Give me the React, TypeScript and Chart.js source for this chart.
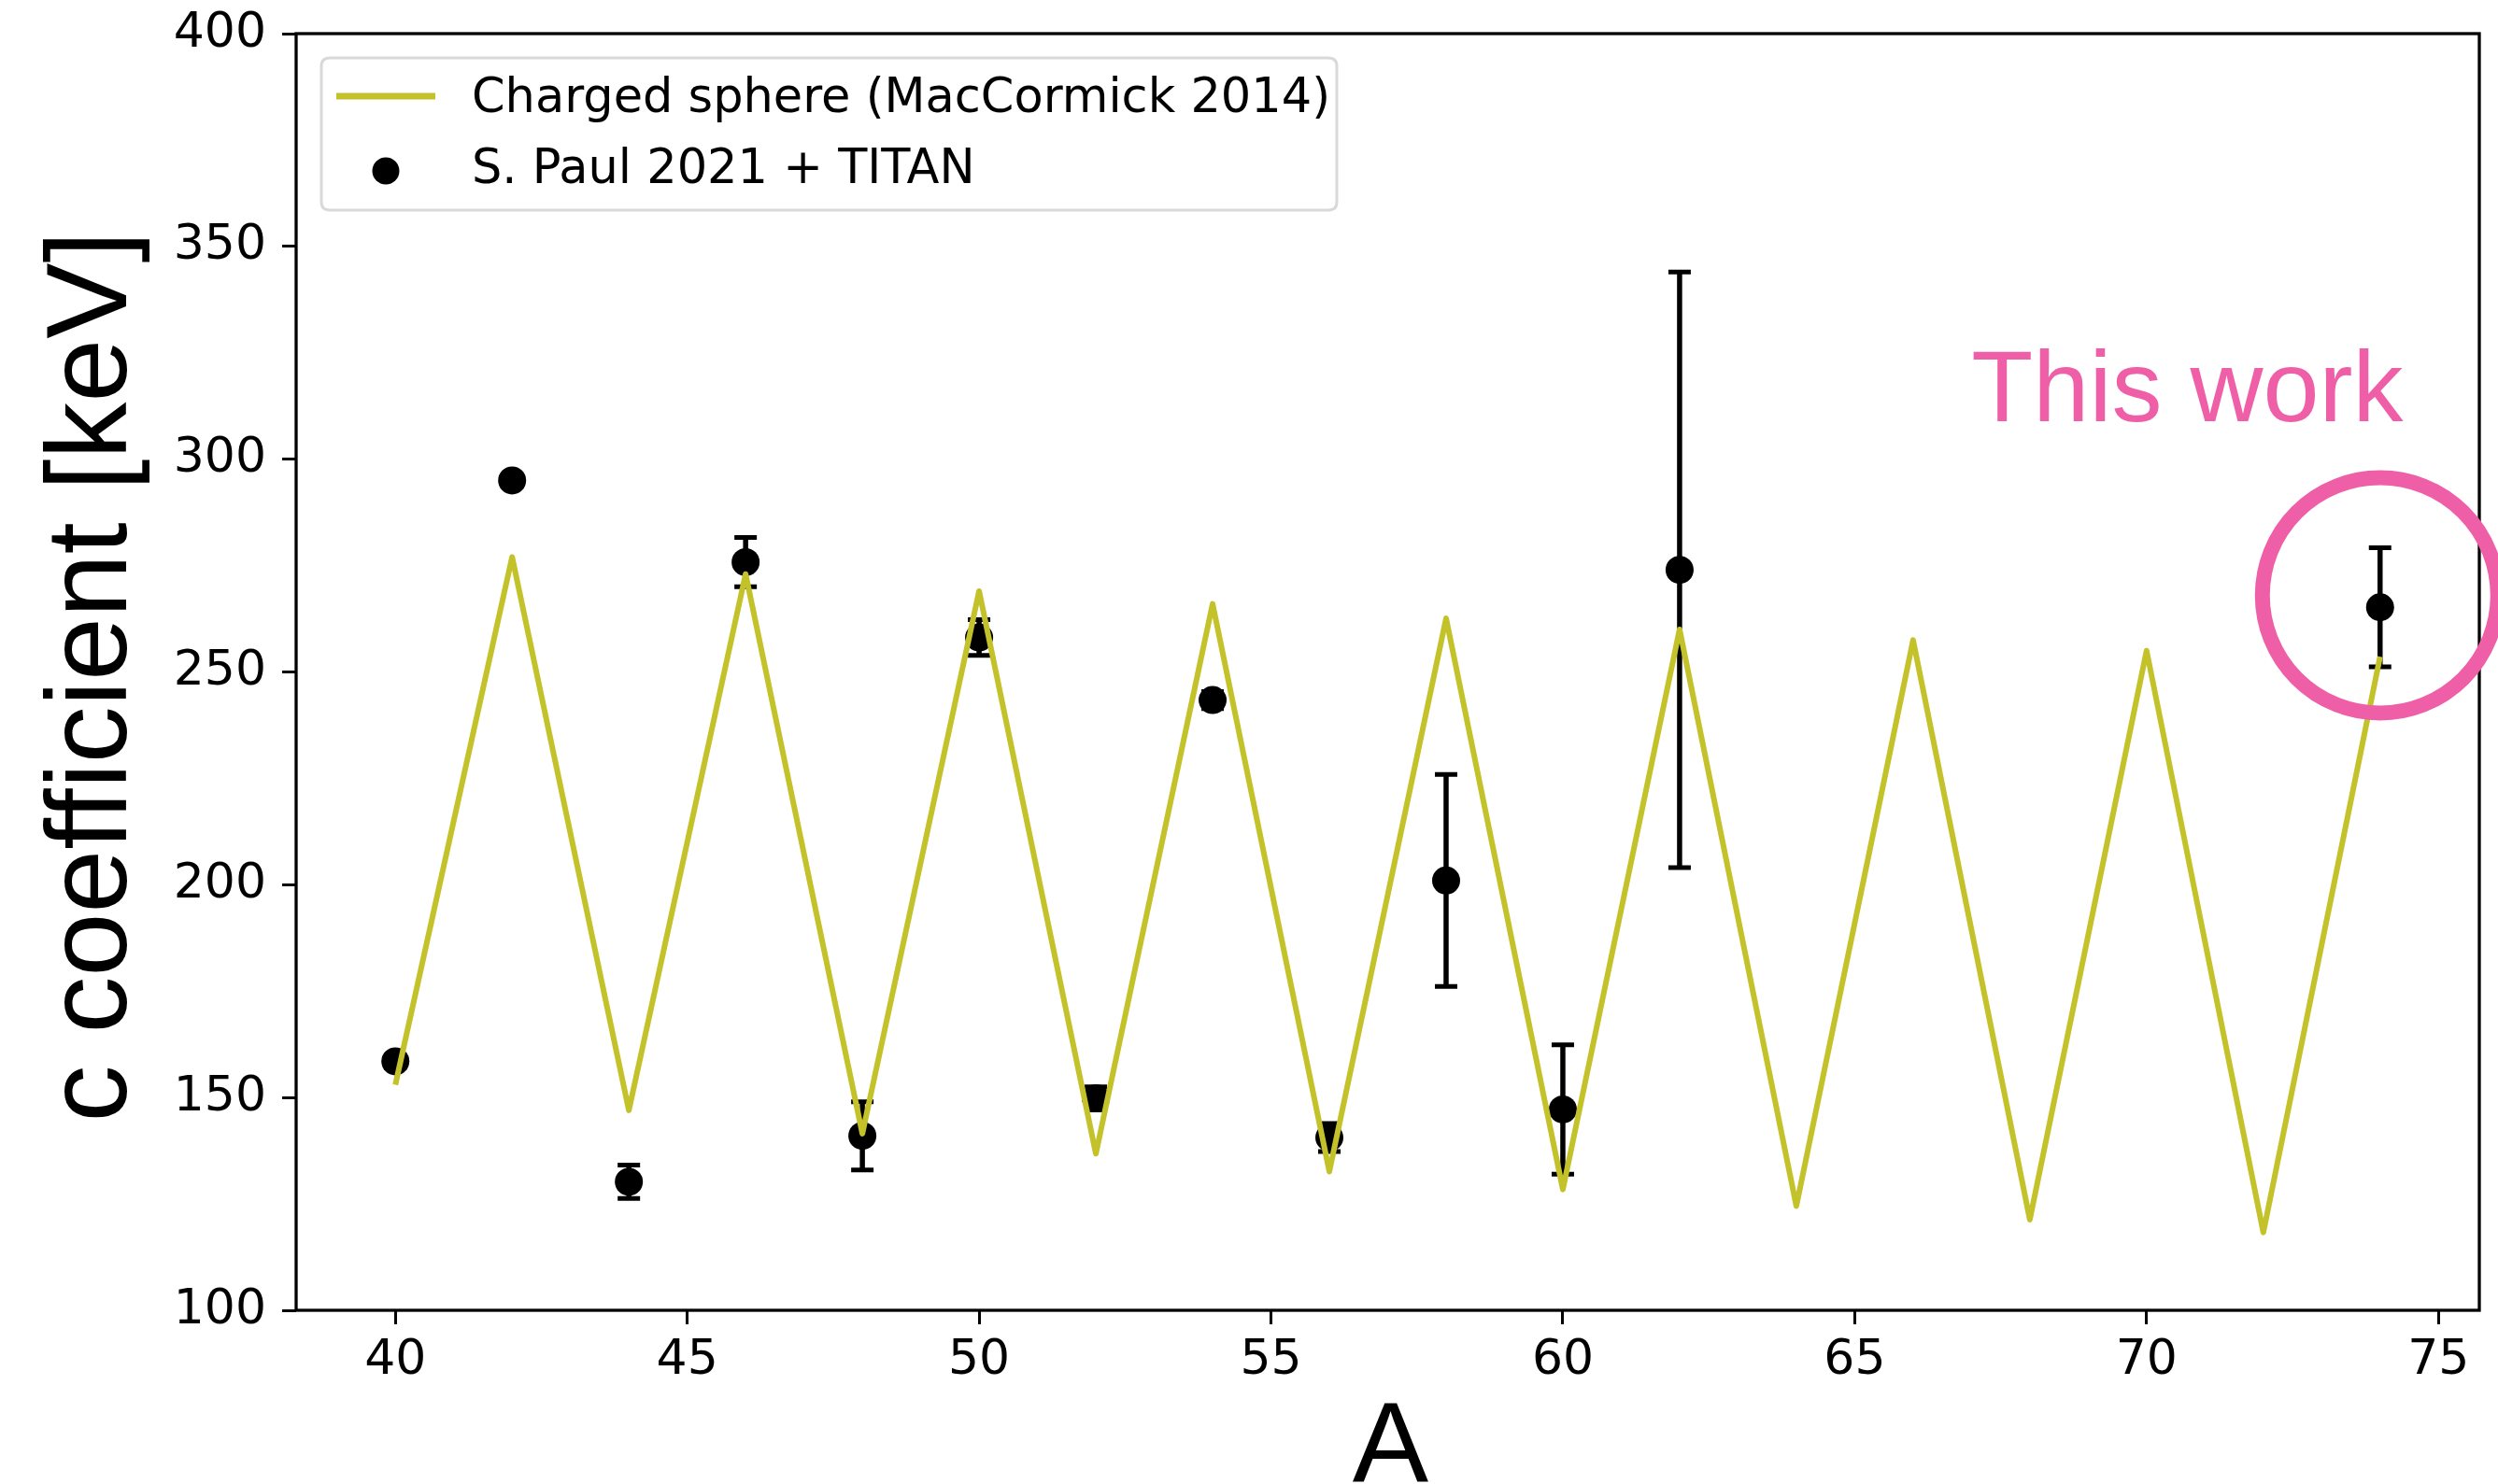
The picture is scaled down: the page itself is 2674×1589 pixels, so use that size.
import React, { useEffect, useRef } from "react";
import { Chart, registerables } from "chart.js";

Chart.register(...registerables);

const W = 2674;
const H = 1589;

// Charged sphere model (MacCormick 2014)
const sphereA = [40, 42, 44, 46, 48, 50, 52, 54, 56, 58, 60, 62, 64, 66, 68, 70, 72, 74];
const sphereC = [153, 277, 147, 273, 141.5, 269, 136.8, 266, 132.6, 262.6, 128.4, 260, 124.5, 257.5, 121.3, 255, 118.3, 253.6];

// Measured points (S. Paul 2021 + TITAN)
const pointA = [40, 42, 44, 46, 48, 50, 52, 54, 56, 58, 60, 62, 74];
const pointC = [158.5, 295, 130.2, 275.8, 141, 258.1, 149.8, 243.4, 140.6, 201, 147.2, 274, 265.2];
const pointErr = [1.5, 1, 3.9, 5.8, 8, 4.2, 2.7, 2, 3.3, 24.9, 15.2, 70, 14];

const xTicks = [40, 45, 50, 55, 60, 65, 70, 75];
const yTicks = [100, 150, 200, 250, 300, 350, 400];

const lineLabel = "Charged sphere (MacCormick 2014)";
const pointLabel = "S. Paul 2021 + TITAN";
const xTitle = "A";
const yTitle = "c coefficient [keV]";
const noteText = "This work";
const noteA = 67;
const noteC = 309;
const circleA = 74;
const circleC = 268;

const OLIVE = "#c4c22a";
const PINK = "#ef5fa7";
const TICK_FONT = "DejaVu Sans";
const TITLE_FONT = "Liberation Sans";

export default function App() {
  const ref = useRef<HTMLCanvasElement | null>(null);

  useEffect(() => {
    document.body.style.margin = "0";
    document.body.style.overflow = "hidden";
    const canvas = ref.current;
    if (!canvas) return;

    const errorBars = {
      id: "errorBars",
      beforeDatasetsDraw(chart: any) {
        const { ctx, scales } = chart;
        const xs = scales.x;
        const ys = scales.y;
        ctx.save();
        ctx.strokeStyle = "#000";
        for (let i = 0; i < pointA.length; i++) {
          const px = xs.getPixelForValue(pointA[i]);
          const top = ys.getPixelForValue(pointC[i] + pointErr[i]);
          const bot = ys.getPixelForValue(pointC[i] - pointErr[i]);
          ctx.lineWidth = 5.5;
          ctx.beginPath();
          ctx.moveTo(px, top);
          ctx.lineTo(px, bot);
          ctx.stroke();
          ctx.lineWidth = 5;
          ctx.beginPath();
          ctx.moveTo(px - 12, top);
          ctx.lineTo(px + 12, top);
          ctx.moveTo(px - 12, bot);
          ctx.lineTo(px + 12, bot);
          ctx.stroke();
        }
        ctx.restore();
      },
    };

    const decorations = {
      id: "decorations",
      afterDraw(chart: any) {
        const { ctx, chartArea, scales } = chart;
        const xs = scales.x;
        const ys = scales.y;
        ctx.save();
        // frame
        ctx.strokeStyle = "#000";
        ctx.lineWidth = 3.3;
        ctx.strokeRect(chartArea.left, chartArea.top, chartArea.right - chartArea.left, chartArea.bottom - chartArea.top);

        // legend
        const lx = 344, ly = 62, lw = 1087, lh = 163, r = 9;
        ctx.beginPath();
        ctx.moveTo(lx + r, ly);
        ctx.lineTo(lx + lw - r, ly);
        ctx.quadraticCurveTo(lx + lw, ly, lx + lw, ly + r);
        ctx.lineTo(lx + lw, ly + lh - r);
        ctx.quadraticCurveTo(lx + lw, ly + lh, lx + lw - r, ly + lh);
        ctx.lineTo(lx + r, ly + lh);
        ctx.quadraticCurveTo(lx, ly + lh, lx, ly + lh - r);
        ctx.lineTo(lx, ly + r);
        ctx.quadraticCurveTo(lx, ly, lx + r, ly);
        ctx.closePath();
        ctx.fillStyle = "rgba(255,255,255,0.8)";
        ctx.fill();
        ctx.strokeStyle = "#d9d9d9";
        ctx.lineWidth = 3;
        ctx.stroke();

        ctx.strokeStyle = OLIVE;
        ctx.lineWidth = 7;
        ctx.beginPath();
        ctx.moveTo(360, 103);
        ctx.lineTo(466, 103);
        ctx.stroke();
        ctx.fillStyle = "#000";
        ctx.beginPath();
        ctx.arc(413, 183, 14.5, 0, Math.PI * 2);
        ctx.fill();

        ctx.font = `51px "${TICK_FONT}"`;
        ctx.textAlign = "left";
        ctx.textBaseline = "alphabetic";
        ctx.fillText(chart.data.datasets[0].label, 505, 120);
        ctx.fillText(chart.data.datasets[1].label, 505, 196);

        // axis titles
        ctx.font = `122px "${TITLE_FONT}"`;
        ctx.textAlign = "center";
        ctx.fillText(xTitle, (chartArea.left + chartArea.right) / 2 + 3, 1587);
        ctx.save();
        ctx.translate(135, (chartArea.top + chartArea.bottom) / 2 + 5);
        ctx.rotate(-Math.PI / 2);
        ctx.fillText(yTitle, 0, 0);
        ctx.restore();

        // annotation
        ctx.fillStyle = PINK;
        ctx.font = `108px "${TITLE_FONT}"`;
        ctx.textAlign = "left";
        ctx.fillText(noteText, xs.getPixelForValue(noteA), ys.getPixelForValue(noteC));
        ctx.strokeStyle = PINK;
        ctx.lineWidth = 16;
        ctx.beginPath();
        ctx.arc(xs.getPixelForValue(circleA), ys.getPixelForValue(circleC), 126, 0, Math.PI * 2);
        ctx.stroke();
        ctx.restore();
      },
    };

    const chart = new Chart(canvas, {
      type: "scatter",
      data: {
        datasets: [
          {
            label: lineLabel,
            data: sphereA.map((a, i) => ({ x: a, y: sphereC[i] })),
            showLine: true,
            borderColor: OLIVE,
            backgroundColor: OLIVE,
            borderWidth: 6,
            borderJoinStyle: "round",
            pointRadius: 0,
            tension: 0,
            order: 0,
          } as any,
          {
            label: pointLabel,
            data: pointA.map((a, i) => ({ x: a, y: pointC[i] })),
            showLine: false,
            backgroundColor: "#000",
            borderColor: "#000",
            borderWidth: 0,
            pointRadius: 15,
            pointHoverRadius: 15,
            order: 1,
          } as any,
        ],
      },
      options: {
        animation: false,
        responsive: false,
        devicePixelRatio: 1,
        events: [],
        layout: { padding: { top: 36, right: 20, left: 0, bottom: 0 } },
        plugins: {
          legend: { display: false },
          tooltip: { enabled: false },
          title: { display: false },
        },
        scales: {
          x: {
            type: "linear",
            min: 38.3,
            max: 75.7,
            afterBuildTicks: (s: any) => {
              s.ticks = xTicks.map((v) => ({ value: v }));
            },
            afterFit: (s: any) => {
              s.height = H - 1403;
              s.paddingLeft = 0;
              s.paddingRight = 0;
              s.paddingTop = 0;
              s.paddingBottom = 0;
            },
            grid: {
              drawOnChartArea: false,
              drawTicks: true,
              tickLength: 15,
              tickWidth: 3,
              tickColor: "#000",
              color: "#000",
            },
            border: { display: false },
            ticks: {
              color: "#000",
              padding: 8,
              maxRotation: 0,
              autoSkip: false,
              font: { family: TICK_FONT, size: 52 },
              callback: (v: any) => String(v),
            },
          },
          y: {
            type: "linear",
            min: 100,
            max: 400,
            afterBuildTicks: (s: any) => {
              s.ticks = yTicks.map((v) => ({ value: v }));
            },
            afterFit: (s: any) => {
              s.width = 317;
              s.paddingLeft = 0;
              s.paddingRight = 0;
              s.paddingTop = 0;
              s.paddingBottom = 0;
            },
            grid: {
              drawOnChartArea: false,
              drawTicks: true,
              tickLength: 15,
              tickWidth: 3,
              tickColor: "#000",
              color: "#000",
            },
            border: { display: false },
            ticks: {
              color: "#000",
              padding: 17,
              autoSkip: false,
              font: { family: TICK_FONT, size: 52 },
              callback: (v: any) => String(v),
            },
          },
        },
      } as any,
      plugins: [errorBars, decorations],
    });

    return () => {
      chart.destroy();
    };
  }, []);

  return (
    <div style={{ width: W, height: H, position: "relative" }}>
      <canvas ref={ref} width={W} height={H} style={{ display: "block", width: W, height: H }} />
    </div>
  );
}
